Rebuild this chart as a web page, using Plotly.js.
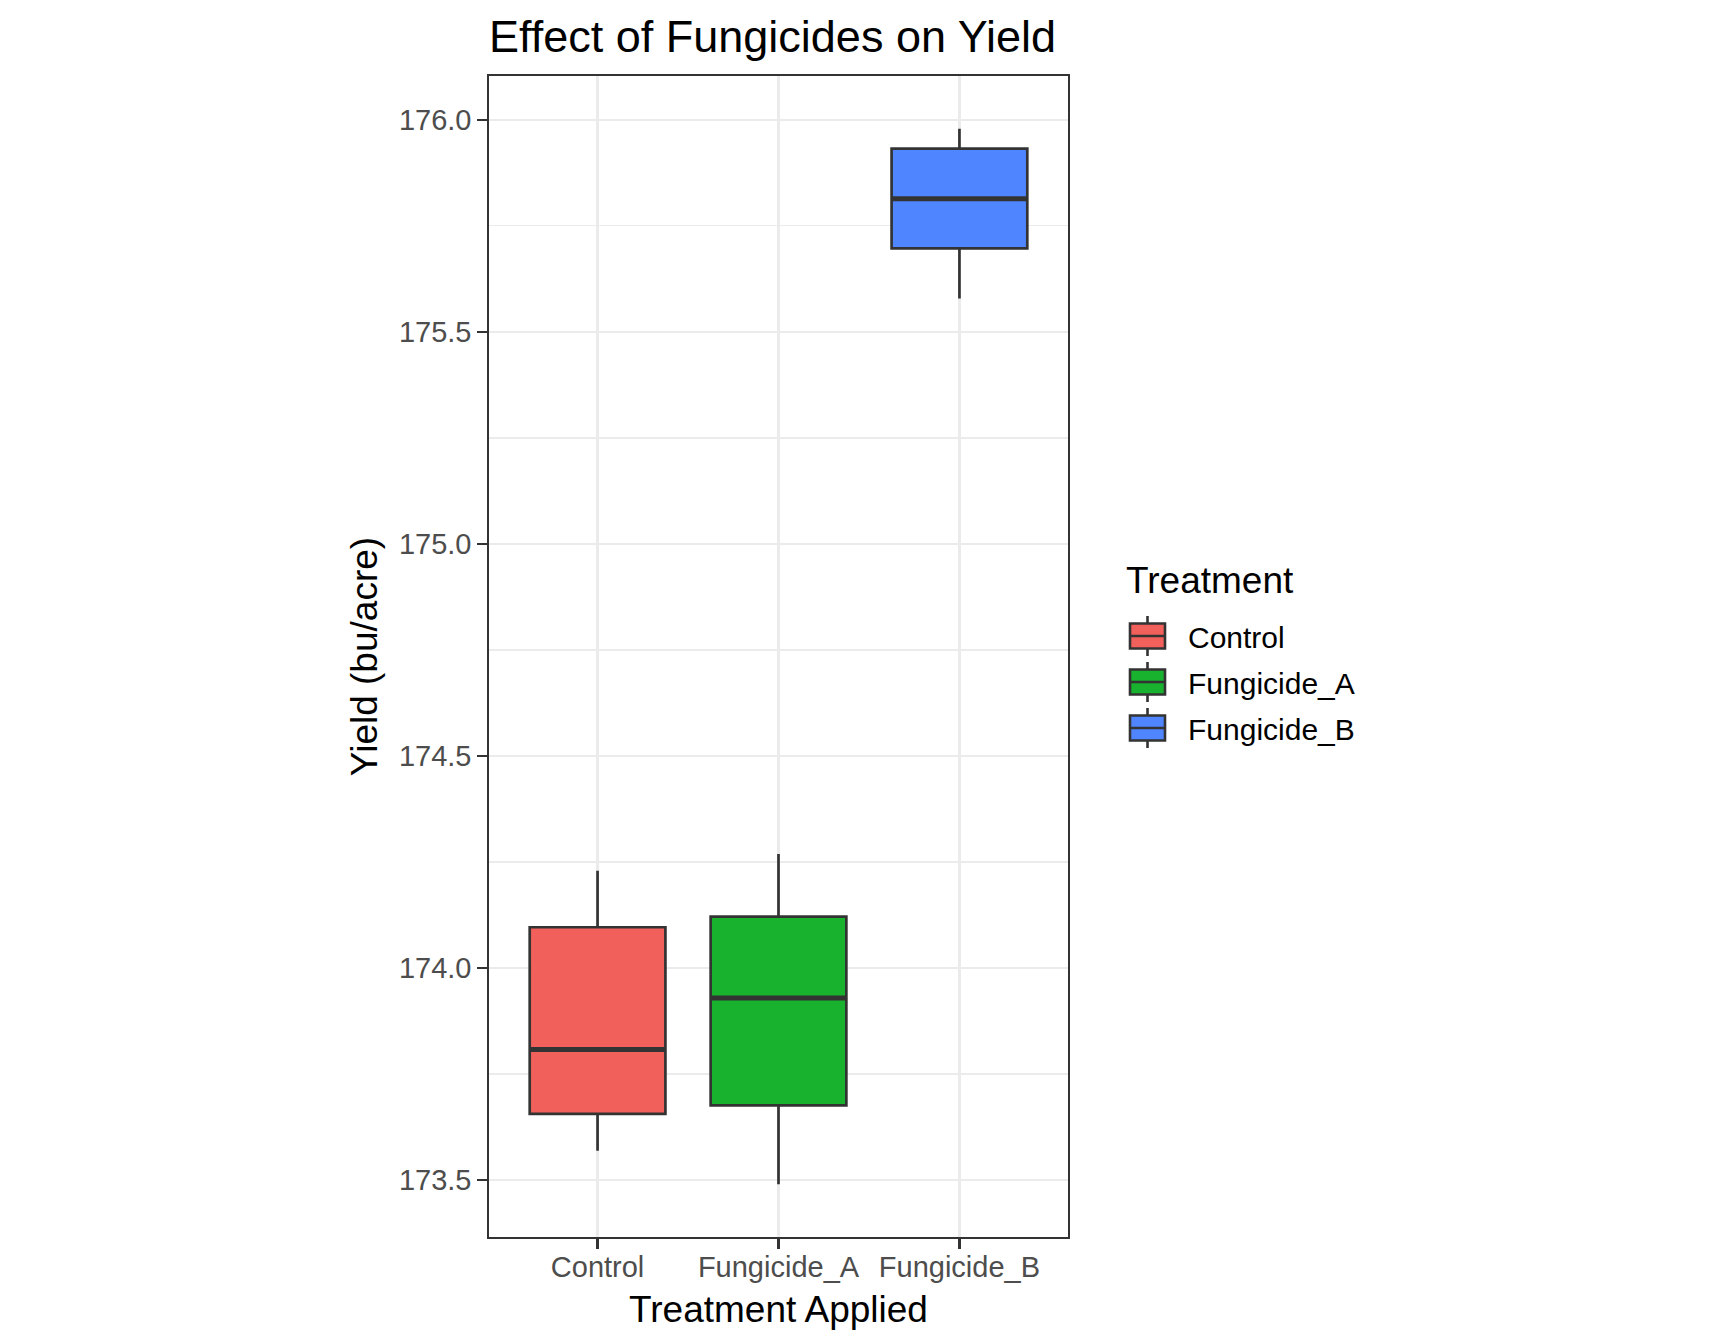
<!DOCTYPE html>
<html>
<head>
<meta charset="utf-8">
<script src="https://cdn.plot.ly/plotly-3.0.1.min.js"></script>
<style>
  html, body { margin: 0; padding: 0; background: #ffffff; }
  #chart { width: 1728px; height: 1344px; }
</style>
</head>
<body>
<div id="chart"></div>
<script>
// ---- data ----
const categories  = ["Control", "Fungicide_A", "Fungicide_B"];
const lowerWhisker = [173.569, 173.490, 175.579];
const q1Values     = [173.656, 173.676, 175.697];
const medianValues = [173.808, 173.929, 175.814];
const q3Values     = [174.096, 174.121, 175.932];
const upperWhisker = [174.229, 174.269, 175.979];
const fillColors   = ["#F2605C", "#19B22F", "#4F86FF"];

// ---- styling ----
const FONT = "Liberation Sans, Arial, Helvetica, sans-serif";
const OUTLINE = "#333333";
const BOX_WIDTH = 0.75;

const traces = [];
categories.forEach((cat, i) => {
  traces.push({
    type: "box",
    name: cat,
    legendgroup: cat,
    x: [i],
    q1: [q1Values[i]],
    median: [medianValues[i]],
    q3: [q3Values[i]],
    lowerfence: [lowerWhisker[i]],
    upperfence: [upperWhisker[i]],
    width: BOX_WIDTH,
    whiskerwidth: 0,
    boxpoints: false,
    fillcolor: fillColors[i],
    line: { color: OUTLINE, width: 2.7 },
    hoverinfo: "skip"
  });
});
// thicker median segments (ggplot draws the median with a fatter line)
categories.forEach((cat, i) => {
  traces.push({
    type: "scatter",
    mode: "lines",
    x: [i - BOX_WIDTH / 2, i + BOX_WIDTH / 2],
    y: [medianValues[i], medianValues[i]],
    line: { color: OUTLINE, width: 5 },
    showlegend: false,
    hoverinfo: "skip"
  });
});

const dataMin = Math.min(...lowerWhisker);
const dataMax = Math.max(...upperWhisker);
const pad = (dataMax - dataMin) * 0.05;

// plot-area geometry in px (used only to place legend/title text)
const PL = 489, PR = 1068, PT = 76, PB = 1237;
const px2x = v => (v - PL) / (PR - PL);
const px2y = v => (PB - v) / (PB - PT);

const layout = {
  width: 1728,
  height: 1344,
  paper_bgcolor: "#ffffff",
  plot_bgcolor: "#ffffff",
  margin: { l: PL, r: 1728 - PR, t: PT, b: 1344 - PB, pad: 0 },
  boxmode: "overlay",
  font: { family: FONT, color: "#000000" },
  title: {
    text: "Effect of Fungicides on Yield",
    font: { family: FONT, size: 45, color: "#000000" },
    x: PL / 1728,
    xanchor: "left",
    xref: "container",
    y: 1 - 36 / 1344,
    yanchor: "middle",
    yref: "container"
  },
  xaxis: {
    range: [-0.6, categories.length - 1 + 0.6],
    tickmode: "array",
    tickvals: categories.map((c, i) => i),
    ticktext: categories,
    ticks: "outside",
    ticklen: 10,
    tickwidth: 2.2,
    tickcolor: OUTLINE,
    tickfont: { family: FONT, size: 29, color: "#4D4D4D" },
    ticklabelstandoff: -7,
    showgrid: true,
    gridcolor: "#EBEBEB",
    gridwidth: 2.4,
    zeroline: false,
    showline: true,
    mirror: true,
    linecolor: OUTLINE,
    linewidth: 1.7,
    fixedrange: true,
    title: {
      text: "Treatment Applied",
      font: { family: FONT, size: 37, color: "#000000" },
      standoff: 14
    }
  },
  yaxis: {
    range: [dataMin - pad, dataMax + pad],
    tick0: 173.5,
    dtick: 0.5,
    tickformat: ".1f",
    ticks: "outside",
    ticklen: 10,
    tickwidth: 2.2,
    tickcolor: OUTLINE,
    tickfont: { family: FONT, size: 29, color: "#4D4D4D" },
    showgrid: true,
    gridcolor: "#EBEBEB",
    gridwidth: 2.4,
    minor: {
      dtick: 0.25,
      tick0: 173.5,
      showgrid: true,
      gridcolor: "#EBEBEB",
      gridwidth: 1.2,
      ticks: ""
    },
    zeroline: false,
    showline: true,
    mirror: true,
    linecolor: OUTLINE,
    linewidth: 1.7,
    fixedrange: true,
    title: {
      text: "Yield (bu/acre)",
      font: { family: FONT, size: 37, color: "#000000" },
      standoff: 10
    }
  },
  showlegend: true,
  legend: {
    x: px2x(1125),
    xanchor: "left",
    y: px2y(610),
    yanchor: "top",
    bgcolor: "rgba(0,0,0,0)",
    borderwidth: 0,
    font: { family: FONT, size: 30, color: "#000000" },
    itemwidth: 53,
    tracegroupgap: 4,
    traceorder: "grouped"
  },
  annotations: [{
    text: "Treatment",
    xref: "paper", yref: "paper",
    x: px2x(1124), xanchor: "left",
    y: px2y(580), yanchor: "middle",
    showarrow: false,
    font: { family: FONT, size: 37, color: "#000000" }
  }]
};

// enlarge the legend keys to the ggplot-style box key (box, median, whiskers)
function styleLegendKeys(gd) {
  const legend = gd.querySelector(".legend");
  if (!legend) return;
  const targetCenterX = 1147.5; // px in page
  legend.querySelectorAll(".traces").forEach(tr => {
    const path = tr.querySelector(".legendpoints path.legendbox") ||
                 tr.querySelector(".legendpoints path");
    if (!path) return;
    const b = path.getBoundingClientRect();
    const curCx = b.left + b.width / 2;
    const dx = targetCenterX - curCx;
    const hw = 17.5, hh = 12.5, wl = 20;
    const d = `M${dx - hw},${-hh}H${dx + hw}V${hh}H${dx - hw}Z` +
              `M${dx - hw},0H${dx + hw}` +
              `M${dx},${-hh}V${-wl}` +
              `M${dx},${hh}V${wl}`;
    path.setAttribute("d", d);
    path.style.strokeWidth = "2.6px";
    path.style.stroke = OUTLINE;
  });
}

Plotly.newPlot("chart", traces, layout, { staticPlot: true, displayModeBar: false })
  .then(gd => styleLegendKeys(gd));
</script>
</body>
</html>
